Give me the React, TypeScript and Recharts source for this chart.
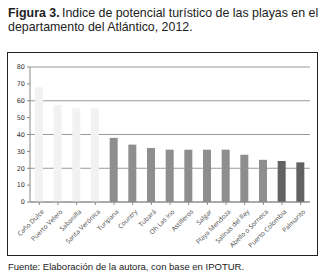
import React from "react";
import { BarChart, Bar, XAxis, YAxis, CartesianGrid, Cell } from "recharts";

const playas = [
  "Caño Dulce", "Puerto Velero", "Sabanilla", "Santa Verónica", "Turipana",
  "Country", "Tubará", "Oh Las Ino", "Astilleros", "Salgar",
  "Playa Mendoza", "Salinas del Rey", "Abello o Sorneca", "Puerto Colombia", "Palmarito",
];
const indice = [68, 57.5, 55.5, 55.5, 38, 34, 32, 31, 31, 31, 31, 28, 25, 24.3, 23.5];
const grupo = [0, 0, 0, 0, 1, 1, 1, 1, 1, 1, 1, 1, 1, 2, 2];
const yTicks = [0, 10, 20, 30, 40, 50, 60, 70, 80];

const colores = ["#f2f2f2", "#8e8e8e", "#626262"];

const data = playas.map((p, i) => ({ playa: p, valor: indice[i], grupo: grupo[i] }));

// eslint-disable-next-line @typescript-eslint/no-explicit-any
const PlayaTick = ({ x, y, payload }: any) => (
  <g transform={`translate(${x + 3},${y + 3})`}>
    <text
      textAnchor="end"
      transform="rotate(-45)"
      fontSize={6.5}
      fill="#444"
      fontFamily="'Open Sans', sans-serif"
      dy={3}
    >
      {payload.value}
    </text>
  </g>
);

export default function App() {
  return (
    <div style={{ position: "absolute", left: 0, top: 0, width: 328, height: 277, background: "#fff", fontFamily: "'Liberation Sans', Arial, sans-serif" }}>
      <div style={{ position: "absolute", left: 8, top: 6, fontSize: 12.4, lineHeight: "14px", color: "#222", whiteSpace: "nowrap" }}>
        <b>Figura 3.</b>
      </div>
      <div style={{ position: "absolute", left: 62, top: 6, fontSize: 12.4, lineHeight: "14px", color: "#222", whiteSpace: "nowrap" }}>
        Indice de potencial turístico de las playas en el
      </div>
      <div style={{ position: "absolute", left: 8, top: 20, fontSize: 12.4, lineHeight: "14px", color: "#222", whiteSpace: "nowrap" }}>
        departamento del Atlántico, 2012.
      </div>
      <div style={{ position: "absolute", left: 7, top: 52, width: 309, height: 202, border: "1px solid #222" }} />
      <div style={{ position: "absolute", left: 7, top: 52 }}>
        <BarChart width={311} height={204} data={data} margin={{ top: 15, right: 8, left: 0, bottom: 0 }} barCategoryGap="0%">
          <CartesianGrid vertical={false} stroke="#9a9a9a" strokeWidth={1} />
          <XAxis
            dataKey="playa"
            interval={0}
            height={54}
            tick={<PlayaTick />}
            tickLine={{ stroke: "#888" }}
            tickSize={3}
            axisLine={{ stroke: "#888" }}
          />
          <YAxis
            domain={[0, 80]}
            ticks={yTicks}
            width={23}
            tick={{ fontSize: 6.5, fill: "#333", fontFamily: "'DejaVu Sans', sans-serif" }}
            tickSize={3}
            tickLine={{ stroke: "#888" }}
            axisLine={{ stroke: "#888" }}
          />
          <Bar dataKey="valor" barSize={8} isAnimationActive={false}>
            {data.map((d, i) => (
              <Cell key={i} fill={colores[d.grupo]} />
            ))}
          </Bar>
        </BarChart>
      </div>
      <div style={{ position: "absolute", left: 8, top: 261, fontSize: 9.5, color: "#222", whiteSpace: "nowrap" }}>
        Fuente: Elaboración de la autora, con base en IPOTUR.
      </div>
    </div>
  );
}
